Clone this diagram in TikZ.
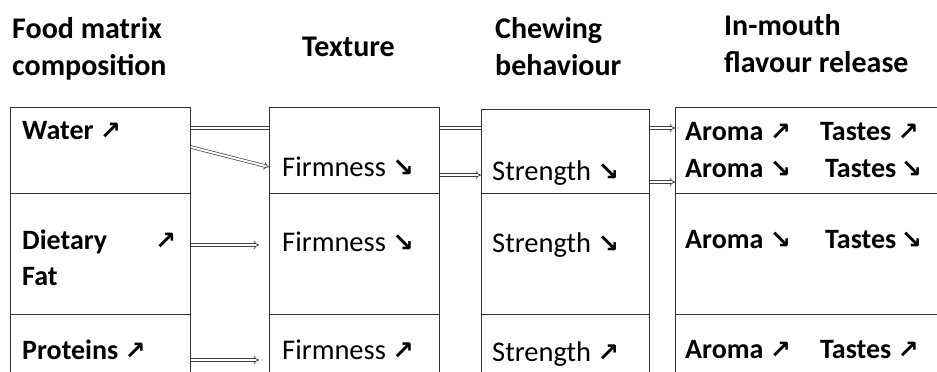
\documentclass[tikz,border=0pt]{standalone}
\usepackage{fontspec}
\setmainfont{Carlito}
\newfontfamily\arrowfont[Scale=0.9]{DejaVu Sans}
\usepackage{tikz}
\usetikzlibrary{arrows.meta, positioning}

% rising and falling arrows
\newcommand{\incr}{{\arrowfont\bfseries ↗}}
\newcommand{\decr}{{\arrowfont\bfseries ↘}}

\begin{document}
\begin{tikzpicture}[x=1pt, y=-1pt,
    % Table cells
    cell/.style={draw=black!80, line width=0.8pt, fill=white, anchor=north west, inner sep=0pt},
    % Column headers
    colheader/.style={font=\fontsize{30}{37}\selectfont\bfseries, align=left, anchor=base west, inner sep=0pt},
    % Cell texts
    boldtext/.style={font=\fontsize{28}{36}\selectfont\bfseries, anchor=base west, inner sep=0pt},
    plaintext/.style={font=\fontsize{28.5}{36}\selectfont, anchor=base west, inner sep=0pt},
    % Hollow double arrows
    connector/.style={draw=black!75, line width=0.7pt, double=white, double distance=2pt, -{Implies}},
]
\useasboundingbox (0,0) rectangle (937,372);
\clip (0,0) rectangle (937,372);

% Column headers (base = last line)
\node[colheader] (fmhead) at (12,75) {Food matrix\\composition};
\node[colheader] (txhead) at (302,56) {Texture};
\node[colheader] (cbhead) at (495,75) {Chewing\\behaviour};
\node[colheader] (frhead) at (724,72) {In-mouth\\flavour release};

% Long connector from water to flavour release, passing behind the boxes
\coordinate (waterout) at (190,128);
\coordinate (aromain) at (675,128);
\draw[connector] (waterout) -- (aromain);

% Food matrix composition
\node[cell, minimum width=180pt, minimum height=86pt] (fm1) at (10,107) {};
\node[cell, minimum width=180pt, minimum height=121pt] (fm2) at (10,193) {};
\node[cell, minimum width=180pt, minimum height=100pt] (fm3) at (10,314) {};

% Texture
\node[cell, minimum width=170pt, minimum height=86pt] (tx1) at (269,107) {};
\node[cell, minimum width=170pt, minimum height=121pt] (tx2) at (269,193) {};
\node[cell, minimum width=170pt, minimum height=100pt] (tx3) at (269,314) {};

% Chewing behaviour
\node[cell, minimum width=168pt, minimum height=84pt] (cb1) at (481,109) {};
\node[cell, minimum width=168pt, minimum height=121pt] (cb2) at (481,193) {};
\node[cell, minimum width=168pt, minimum height=100pt] (cb3) at (481,314) {};

% In-mouth flavour release
\node[cell, minimum width=300pt, minimum height=86pt] (fr1) at (675,107) {};
\node[cell, minimum width=300pt, minimum height=121pt] (fr2) at (675,193) {};
\node[cell, minimum width=300pt, minimum height=100pt] (fr3) at (675,314) {};

% Cell texts
\node[boldtext] (water) at (22,139) {Water \incr};
\node[boldtext] (dietary) at (22,249) {Dietary};
\node[boldtext] (fatup) at (155,249) {\incr};
\node[boldtext] (fat) at (22,285) {Fat};
\node[boldtext] (proteins) at (22,359) {Proteins \incr};

\node[plaintext] (firm1) at (282,176) {Firmness \decr};
\node[plaintext] (firm2) at (282,251) {Firmness \decr};
\node[plaintext] (firm3) at (282,359) {Firmness \incr};

\node[plaintext] (str1) at (492,180) {Strength \decr};
\node[plaintext] (str2) at (492,252) {Strength \decr};
\node[plaintext] (str3) at (492,361) {Strength \incr};

\node[boldtext] (aroma1) at (685,140) {Aroma \incr};
\node[boldtext] (tastes1) at (820,140) {Tastes \incr};
\node[boldtext] (aroma2) at (685,177) {Aroma \decr};
\node[boldtext] (tastes2) at (825,177) {Tastes\,\decr};
\node[boldtext] (aroma3) at (685,248) {Aroma \decr};
\node[boldtext] (tastes3) at (825,248) {Tastes\,\decr};
\node[boldtext] (aroma4) at (685,358) {Aroma \incr};
\node[boldtext] (tastes4) at (820,358) {Tastes \incr};

% Connectors between columns
\draw[connector] (fm1.east |- 0,147) -- (tx1.west |- 0,167);
\draw[connector] (tx1.east |- 0,175) -- (cb1.west |- 0,175);
\draw[connector] (cb1.east |- 0,182) -- (fr1.west |- 0,182);
\draw[connector] (fm2.east |- 0,245) -- ([xshift=-10pt]tx2.west |- 0,245);
\draw[connector] (fm3.east |- 0,360) -- ([xshift=-10pt]tx3.west |- 0,360);

\end{tikzpicture}
\end{document}
